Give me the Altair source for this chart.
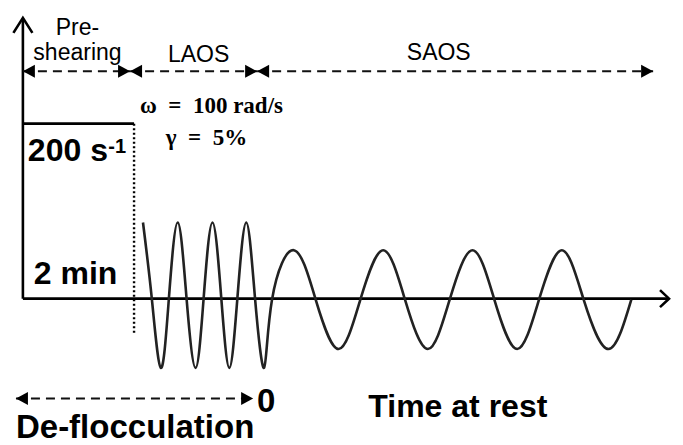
import altair as alt
import pandas as pd

# Reference frame: values are positions in the 683x445 schematic
X_DOMAIN = [8, 675]
Y_DOMAIN = [8, 445]

# solid lines: y-axis, time axis, pre-shear step level
solid_x1 = [22, 22, 22]
solid_y1 = [19, 302, 125]
solid_x2 = [22, 673, 134]
solid_y2 = [302, 302, 125]

# dotted drop at end of pre-shearing
dotted_x1 = [134]
dotted_y1 = [125]
dotted_x2 = [134]
dotted_y2 = [338]

# dashed double arrows (phase spans)
arrow_x1 = [22, 130, 258, 15]
arrow_x2 = [130, 258, 657, 254]
arrow_y = [72, 72, 72, 403]

# waveform points (peaks, troughs, zero crossings)
wave_x = [143, 152, 161, 169, 178, 187, 196, 204, 213, 222, 230, 238, 247, 256, 265,
          273, 295, 317, 340, 362, 385, 407, 430, 452, 475, 497, 520, 542, 565, 587, 612, 635]
wave_y = [225, 303, 372, 303, 225, 303, 372, 303, 225, 303, 372, 303, 225, 303, 372,
          303, 253, 303, 353, 303, 253, 303, 353, 303, 253, 303, 353, 303, 253, 303, 353, 303]

# labels
phase_labels = ["Pre-", "shearing", "LAOS", "SAOS"]
phase_x = [77, 77, 199, 441]
phase_y = [35, 61, 63, 61]

param_labels = ["ω\u2002=\u2002100 rad/s", "γ\u2002=\u20025%"]
param_x = [212, 207]
param_y = [114, 147]

bold_labels = ["200 s", "2 min", "Time at rest", "De-flocculation"]
bold_x = [27, 33, 370, 15]
bold_y = [163, 287, 422, 443]
bold_size_ref = [32, 32, 32, 33]

sup_labels = ["-1"]
sup_x = [108]
sup_y = [155]

zero_labels = ["0"]
zero_x = [267]
zero_y = [417]

xs = alt.Scale(domain=X_DOMAIN, nice=False, zero=False)
ys = alt.Scale(domain=Y_DOMAIN, nice=False, zero=False, reverse=True)


def X(f):
    return alt.X(f, type="quantitative", scale=xs, axis=None)


def Y(f):
    return alt.Y(f, type="quantitative", scale=ys, axis=None)


solid = alt.Chart(pd.DataFrame({"x": solid_x1, "y": solid_y1, "x2": solid_x2, "y2": solid_y2})).mark_rule(
    color="black", strokeWidth=2.6
).encode(x=X("x"), y=Y("y"), x2="x2:Q", y2="y2:Q")

dotted = alt.Chart(pd.DataFrame({"x": dotted_x1, "y": dotted_y1, "x2": dotted_x2, "y2": dotted_y2})).mark_rule(
    color="black", strokeWidth=2.4, strokeDash=[2, 2.5]
).encode(x=X("x"), y=Y("y"), x2="x2:Q", y2="y2:Q")

arrows_df = pd.DataFrame({"x": arrow_x1, "x2": arrow_x2, "y": arrow_y})
dashed = alt.Chart(arrows_df).mark_rule(
    color="#111", strokeWidth=2.2, strokeDash=[9, 6]
).encode(x=X("x"), x2="x2:Q", y=Y("y"))

left_heads = alt.Chart(arrows_df).mark_point(
    shape="M0,0L1,-0.55L1,0.55Z", filled=True, color="black", size=576, opacity=1
).encode(x=X("x"), y=Y("y"))

right_heads = alt.Chart(arrows_df).mark_point(
    shape="M0,0L-1,-0.55L-1,0.55Z", filled=True, color="black", size=576, opacity=1
).encode(x=X("x2"), y=Y("y"))

axis_tips_df = pd.DataFrame({"x": [solid_x1[0]], "y": [solid_y1[0] - 1]})
y_tip = alt.Chart(axis_tips_df).mark_point(
    shape="M-0.95,1.5L0,0L0.95,1.5", filled=False, color="black", strokeWidth=2.6, size=400, opacity=1
).encode(x=X("x"), y=Y("y"))

x_tip_df = pd.DataFrame({"x": [solid_x2[1]], "y": [solid_y2[1]]})
x_tip = alt.Chart(x_tip_df).mark_point(
    shape="M-0.9,-0.85L0,0L-0.9,0.85", filled=False, color="black", strokeWidth=2.6, size=400, opacity=1
).encode(x=X("x"), y=Y("y"))

wave = alt.Chart(pd.DataFrame({"x": wave_x, "y": wave_y})).mark_line(
    color="#222", strokeWidth=2.6, interpolate="natural"
).encode(x=X("x"), y=Y("y"))

phase_text = alt.Chart(pd.DataFrame({"x": phase_x, "y": phase_y, "t": phase_labels})).mark_text(
    font="Liberation Sans", fontSize=23, color="black", align="center", baseline="alphabetic"
).encode(x=X("x"), y=Y("y"), text="t:N")

param_text = alt.Chart(pd.DataFrame({"x": param_x, "y": param_y, "t": param_labels})).mark_text(
    font="Liberation Serif", fontSize=23, fontWeight="bold", color="black", align="center", baseline="alphabetic"
).encode(x=X("x"), y=Y("y"), text="t:N")

bold_df = pd.DataFrame({"x": bold_x, "y": bold_y, "t": bold_labels, "s": bold_size_ref})
bold_layers = []
for s in sorted(set(bold_size_ref)):
    bold_layers.append(
        alt.Chart(bold_df[bold_df["s"] == s]).mark_text(
            font="Liberation Sans", fontSize=s, fontWeight="bold", color="black", align="left", baseline="alphabetic"
        ).encode(x=X("x"), y=Y("y"), text="t:N")
    )

sup_text = alt.Chart(pd.DataFrame({"x": sup_x, "y": sup_y, "t": sup_labels})).mark_text(
    font="Liberation Sans", fontSize=20, fontWeight="bold", color="black", align="left", baseline="alphabetic"
).encode(x=X("x"), y=Y("y"), text="t:N")

zero_text = alt.Chart(pd.DataFrame({"x": zero_x, "y": zero_y, "t": zero_labels})).mark_text(
    font="Liberation Sans", fontSize=33, fontWeight="bold", color="black", align="center", baseline="alphabetic"
).encode(x=X("x"), y=Y("y"), text="t:N")

chart = alt.layer(
    dotted, solid, dashed, left_heads, right_heads, y_tip, x_tip, wave,
    phase_text, param_text, *bold_layers, sup_text, zero_text
).properties(
    width=667, height=437,
    autosize=alt.AutoSizeParams(type="fit", contains="padding"),
    padding=0,
    background="white",
).configure_view(stroke=None)

chart.save("out.html", embed_options={"renderer": "svg", "actions": False})
